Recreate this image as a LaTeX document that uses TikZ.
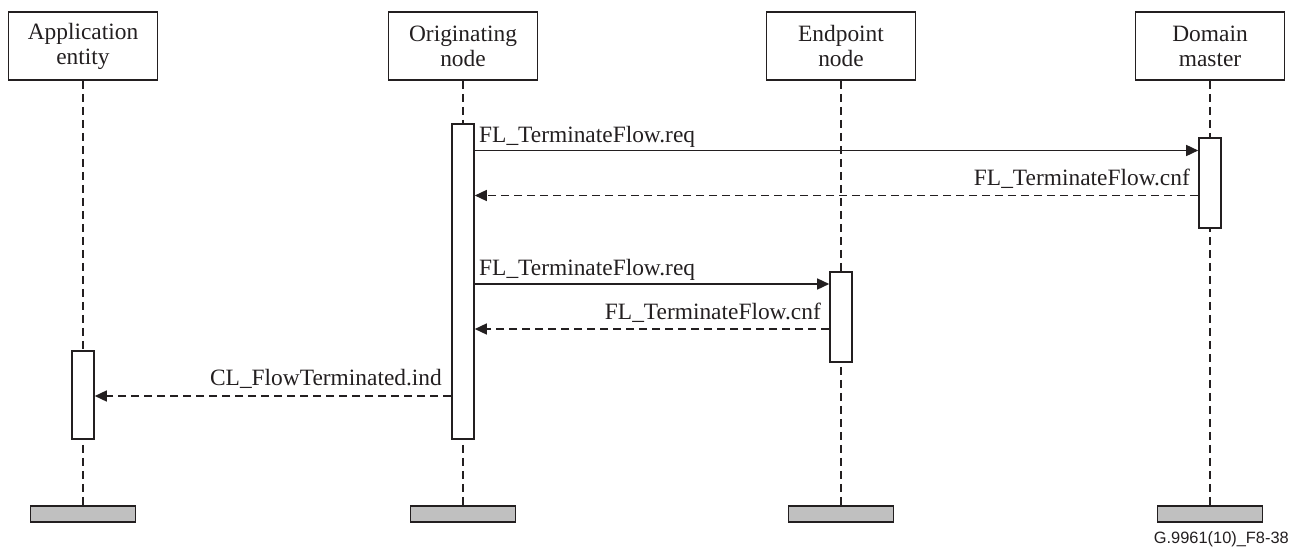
\documentclass[tikz,border=0pt]{standalone}
\usepackage{fontspec}
\setmainfont{Liberation Serif}
\newfontfamily\labelfont{Liberation Sans}
\usetikzlibrary{arrows.meta}
\definecolor{ink}{HTML}{231F20}
\definecolor{barfill}{HTML}{C0C0C0}
\begin{document}
\begin{tikzpicture}[x=1pt,y=-1pt,
  head/.style={draw=ink, line width=1.6pt, minimum width=149pt, minimum height=68pt, inner sep=0pt, align=center, font=\fontsize{23.4}{25}\selectfont, text=ink},
  act/.style={draw=ink, fill=white, line width=1.6pt, minimum width=22pt, inner sep=0pt},
  foot/.style={draw=ink, fill=barfill, line width=1.6pt, minimum width=105pt, minimum height=16pt, inner sep=0pt},
  life/.style={draw=ink, line width=1.5pt, dash pattern=on 8pt off 5pt},
  msg/.style={draw=ink, line width=1.5pt, -{Triangle[length=12pt,width=11pt]}},
  ret/.style={msg, dash pattern=on 8pt off 5pt},
  lbl/.style={font=\fontsize{23.4}{25}\selectfont, text=ink, inner sep=0pt}]
\path[use as bounding box] (0,0) rectangle (1301,554);

% header boxes
\node[head] (h1) at (83,46) {Application\\entity};
\node[head] (h2) at (463,46) {Originating\\node};
\node[head] (h3) at (841,46) {Endpoint\\node};
\node[head] (h4) at (1210,46) {Domain\\master};

% footer bars
\node[foot] (f1) at (83,514) {};
\node[foot] (f2) at (463,514) {};
\node[foot] (f3) at (841,514) {};
\node[foot] (f4) at (1210,514) {};

% lifelines
\draw[life] (h1.south) -- (f1.north);
\draw[life] (h2.south) -- (f2.north);
\draw[life] (h3.south) -- (f3.north);
\draw[life] (h4.south) -- (f4.north);

% activation bars
\node[act, minimum height=88pt] (a1) at (83,395) {};
\node[act, minimum height=315pt] (a2) at (463,281.5) {};
\node[act, minimum height=90pt] (a3) at (841,317) {};
\node[act, minimum height=90pt] (a4) at (1210,183) {};

% message end points
\coordinate (m1a) at (a2.east |- 0,150.5);
\coordinate (m1b) at (a4.west |- 0,150.5);
\coordinate (m2a) at (a4.west |- 0,195.5);
\coordinate (m2b) at (a2.east |- 0,195.5);
\coordinate (m3a) at (a2.east |- 0,284);
\coordinate (m3b) at (a3.west |- 0,284);
\coordinate (m4a) at (a3.west |- 0,329);
\coordinate (m4b) at (a2.east |- 0,329);
\coordinate (m5a) at (a2.west |- 0,396);
\coordinate (m5b) at (a1.east |- 0,396);

% messages
\draw[msg] (m1a) -- (m1b);
\draw[ret] (m2a) -- (m2b);
\draw[msg] (m3a) -- (m3b);
\draw[ret] (m4a) -- (m4b);
\draw[ret] (m5a) -- (m5b);

% labels
\node[lbl, anchor=base west] (l1) at (479,142) {FL\_TerminateFlow.req};
\node[lbl, anchor=base east] (l2) at (1190,185) {FL\_TerminateFlow.cnf};
\node[lbl, anchor=base west] (l3) at (479,275) {FL\_TerminateFlow.req};
\node[lbl, anchor=base east] (l4) at (821,319) {FL\_TerminateFlow.cnf};
\node[lbl, anchor=base east] (l5) at (442,385) {CL\_FlowTerminated.ind};

% figure id
\node[font=\labelfont\fontsize{16.4}{18}\selectfont, text=ink, inner sep=0pt, anchor=base east] (fig) at (1289,543) {G.9961(10)\_F8-38};
\end{tikzpicture}
\end{document}
